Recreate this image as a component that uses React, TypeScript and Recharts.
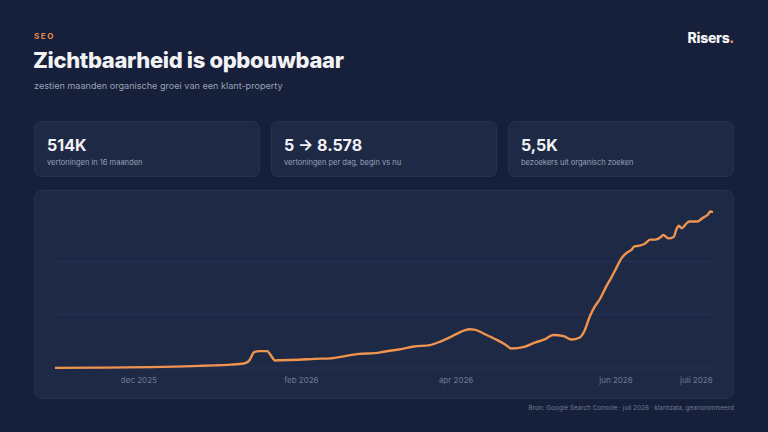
import React from "react";
import { LineChart, Line, XAxis, YAxis, CartesianGrid } from "recharts";

const dates = [
  "2025-10-30", "2025-11-16", "2025-12-05", "2025-12-15", "2025-12-24", "2025-12-30",
  "2026-01-05", "2026-01-10", "2026-01-12", "2026-01-14", "2026-01-16", "2026-01-19",
  "2026-01-20", "2026-01-22", "2026-01-24", "2026-01-31", "2026-02-06", "2026-02-12",
  "2026-02-18", "2026-02-23", "2026-03-01", "2026-03-05", "2026-03-11", "2026-03-16",
  "2026-03-22", "2026-03-26", "2026-03-30", "2026-04-03", "2026-04-06", "2026-04-08",
  "2026-04-12", "2026-04-16", "2026-04-20", "2026-04-22", "2026-04-27", "2026-05-01",
  "2026-05-05", "2026-05-08", "2026-05-12", "2026-05-15", "2026-05-18", "2026-05-20",
  "2026-05-22", "2026-05-24", "2026-05-26", "2026-05-28", "2026-05-30", "2026-06-01",
  "2026-06-03", "2026-06-05", "2026-06-07", "2026-06-08", "2026-06-10", "2026-06-12",
  "2026-06-14", "2026-06-16", "2026-06-18", "2026-06-19", "2026-06-21", "2026-06-23",
  "2026-06-24", "2026-06-25", "2026-06-26", "2026-06-28", "2026-06-29", "2026-07-02",
  "2026-07-04", "2026-07-06", "2026-07-07", "2026-07-08",
];

const impressions = [
  5, 20, 50, 80, 120, 150,
  190, 250, 400, 890, 950, 950,
  780, 425, 440, 460, 515, 540,
  680, 795, 835, 930, 1060, 1210,
  1290, 1490, 1750, 2050, 2180, 2160,
  1900, 1620, 1300, 1100, 1190, 1430,
  1620, 1860, 1790, 1600, 1700, 2100,
  2900, 3480, 3910, 4510, 5030, 5590,
  6150, 6470, 6660, 6840, 6880, 6990,
  7220, 7220, 7350, 7480, 7290, 7370,
  7780, 8000, 7870, 8150, 8240, 8240,
  8430, 8620, 8800, 8770,
];

const tickDates = ["2025-12-01", "2026-02-01", "2026-04-01", "2026-06-01", "2026-07-01"];
const tickLabels = ["dec 2025", "feb 2026", "apr 2026", "jun 2026", "juli 2026"];

const yTicks = [0, 3000, 6000];

const kpis = [
  { value: "514K", label: "vertoningen in 16 maanden" },
  { value: "5 → 8.578", label: "vertoningen per dag, begin vs nu" },
  { value: "5,5K", label: "bezoekers uit organisch zoeken" },
];

const dayNum = (d: string) => Date.parse(d + "T00:00:00Z") / 86400000;

const data = dates.map((d, i) => ({ t: dayNum(d), v: impressions[i] }));
const ticks = tickDates.map(dayNum);

const FONT = "Inter, 'Noto Sans', sans-serif";

function MonthTick(props: any) {
  const { x, y, payload, index } = props;
  const last = index === ticks.length - 1;
  return (
    <text
      x={last ? x + 18 : x}
      y={y}
      dy={7}
      textAnchor={last ? "end" : "middle"}
      fill="#6f7a94"
      fontSize={8}
      fontFamily={FONT}
    >
      {tickLabels[ticks.indexOf(payload.value)]}
    </text>
  );
}

export default function App() {
  return (
    <div
      style={{
        position: "fixed",
        left: 0,
        top: 0,
        width: 768,
        height: 432,
        background: "#16203b",
        fontFamily: FONT,
        overflow: "hidden",
      }}
    >
      <div
        style={{
          position: "absolute",
          left: 34,
          top: 31,
          fontSize: 8,
          fontWeight: 700,
          letterSpacing: 1.6,
          color: "#e38a4b",
        }}
      >
        SEO
      </div>
      <div
        style={{
          position: "absolute",
          left: 33,
          top: 47,
          fontSize: 22,
          fontWeight: 800,
          letterSpacing: -0.35,
          color: "#f2f2f4",
        }}
      >
        Zichtbaarheid is opbouwbaar
      </div>
      <div
        style={{
          position: "absolute",
          left: 34,
          top: 80,
          fontSize: 9.1,
          color: "#98a1b6",
        }}
      >
        zestien maanden organische groei van een klant-property
      </div>
      <div
        style={{
          position: "absolute",
          right: 34,
          top: 29,
          fontSize: 14,
          fontWeight: 800,
          letterSpacing: -0.3,
          color: "#f2f2f4",
        }}
      >
        Risers<span style={{ color: "#f0934e" }}>.</span>
      </div>

      {kpis.map((k, i) => (
        <div
          key={k.value}
          style={{
            position: "absolute",
            left: [34, 271, 508][i],
            top: 121,
            width: 226,
            height: 56,
            boxSizing: "border-box",
            background: "#1e2946",
            border: "1px solid #27324f",
            borderRadius: 7,
          }}
        >
          <div
            style={{
              position: "absolute",
              left: 12,
              top: 13,
              fontSize: 16,
              fontWeight: 700,
              color: "#f2f2f4",
            }}
          >
            {k.value}
          </div>
          <div
            style={{
              position: "absolute",
              left: 12,
              top: 36,
              fontSize: 7.5,
              color: "#98a1b6",
            }}
          >
            {k.label}
          </div>
        </div>
      ))}

      <div
        style={{
          position: "absolute",
          left: 34,
          top: 190,
          width: 700,
          height: 209,
          boxSizing: "border-box",
          background: "#1e2946",
          border: "1px solid #27324f",
          borderRadius: 8,
        }}
      >
        <LineChart
          width={698}
          height={207}
          data={data}
          margin={{ top: 17, right: 20, left: 20, bottom: 0 }}
        >
          <CartesianGrid
            vertical={false}
            horizontalValues={yTicks}
            stroke="#25315a"
            strokeWidth={1}
          />
          <XAxis
            dataKey="t"
            type="number"
            domain={[ticks[0] - 32, dayNum("2026-07-08")]}
            ticks={ticks}
            axisLine={false}
            tickLine={false}
            height={30}
            tick={<MonthTick />}
            interval={0}
          />
          <YAxis hide domain={[0, 9000]} ticks={yTicks} />
          <Line
            type="monotone"
            dataKey="v"
            stroke="#f0934e"
            strokeWidth={2.4}
            dot={false}
            isAnimationActive={false}
          />
        </LineChart>
      </div>

      <div
        style={{
          position: "absolute",
          right: 34,
          top: 404,
          fontSize: 6.4,
          color: "#6f7a94",
        }}
      >
        Bron: Google Search Console · juli 2026 · klantdata, geanonimiseerd
      </div>
    </div>
  );
}
